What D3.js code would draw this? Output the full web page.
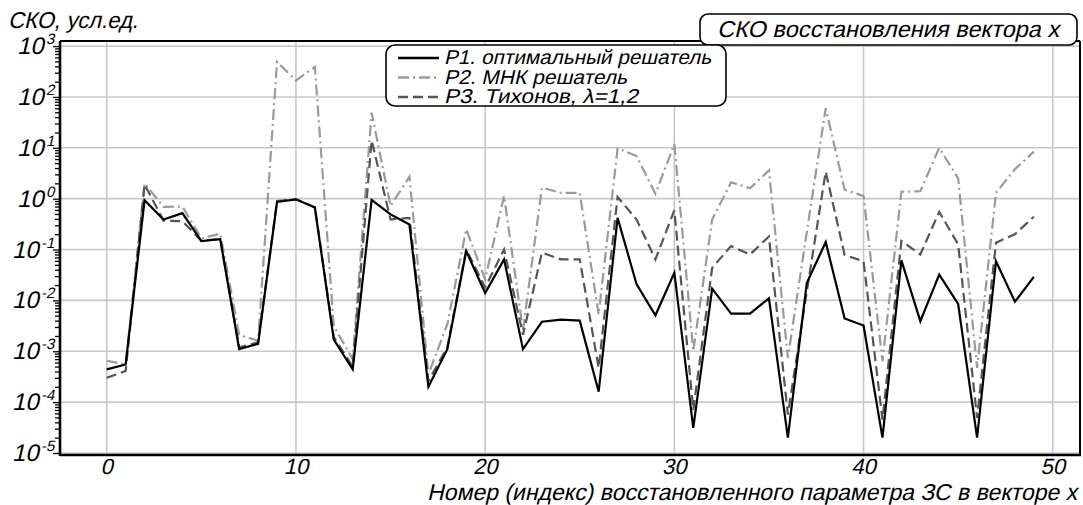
<!DOCTYPE html>
<html>
<head>
<meta charset="utf-8">
<script src="https://cdn.jsdelivr.net/npm/d3@7"></script>
<style>
  body { margin: 0; background: #fff; }
</style>
</head>
<body>
<svg id="chart" width="1083" height="505"></svg>
<script>
// --- data ---
var idx = d3.range(0, 50);
var p1 = [4.4e-4,5.5e-4,0.93,0.39,0.52,0.147,0.16,1.1e-3,1.4e-3,0.86,
          0.97,0.67,1.7e-3,4.4e-4,0.95,0.49,0.31,2.0e-4,1.1e-3,0.093,
          0.014,0.064,1.1e-3,3.8e-3,4.2e-3,4.0e-3,1.6e-4,0.42,0.021,5.1e-3,
          0.035,3.1e-5,0.017,5.5e-3,5.5e-3,0.011,2.0e-5,0.022,0.14,4.4e-3,
          3.2e-3,2.0e-5,0.061,3.9e-3,0.032,8.5e-3,2.0e-5,0.059,9.4e-3,0.029];
var p2 = [6.5e-4,5.5e-4,2.0,0.69,0.70,0.166,0.205,2.1e-3,1.6e-3,490,
          210,390,3.1e-3,7.0e-4,49,0.72,2.7,3.5e-4,3.4e-3,0.25,
          0.026,1.13,2.6e-3,1.65,1.3,1.3,5.3e-3,9.8,6.9,1.25,
          11.8,1.0e-3,0.39,2.1,1.6,3.6,7.4e-4,0.22,60,1.5,
          1.13,6.4e-4,1.37,1.4,10,2.5,4.7e-4,1.3,3.8,8.4];
var p3 = [3.0e-4,4.1e-4,1.9,0.37,0.36,0.15,0.16,1.2e-3,1.5e-3,0.9,
          0.97,0.68,1.9e-3,5.0e-4,14,0.39,0.42,2.6e-4,1.2e-3,0.1,
          0.018,0.1,2.1e-3,0.087,0.064,0.064,4.7e-4,1.08,0.39,0.064,
          0.59,7e-5,0.044,0.117,0.08,0.18,5.7e-5,0.015,3.4,0.078,
          0.059,4.5e-5,0.147,0.08,0.55,0.126,4.9e-5,0.136,0.2,0.44];
var xTicks = [0, 10, 20, 30, 40, 50];
var yExps = [-5, -4, -3, -2, -1, 0, 1, 2, 3];
var legendLabels = ["P1. оптимальный решатель", "P2. МНК решатель", "P3. Тихонов, λ=1,2"];

var FONT = "'Liberation Sans', Arial, sans-serif";

var svg = d3.select("#chart");
var L = 60, R = 1080, T = 41, B = 455;

var x = d3.scaleLinear().domain([-2.47, 51.44]).range([L, R]);
var y = d3.scaleLog().domain([Math.pow(10, -5.04), Math.pow(10, 3.1)]).range([B, T]);

// upright face slanted by a skew so it reads as italic
function slanted(parent, px, py, size) {
  return parent.append("text")
    .attr("transform", "translate(" + px + "," + py + ") skewX(-13)")
    .attr("font-size", size)
    .style("font-family", FONT).style("font-style", "normal")
    .attr("fill", "#000");
}

// grid
svg.append("g").selectAll("line").data(yExps).enter().append("line")
  .attr("x1", L).attr("x2", R)
  .attr("y1", function(e) { return y(Math.pow(10, e)); })
  .attr("y2", function(e) { return y(Math.pow(10, e)); })
  .attr("stroke", "#c8c8c8").attr("stroke-width", 1.6);
svg.append("g").selectAll("line").data(xTicks).enter().append("line")
  .attr("y1", T).attr("y2", B)
  .attr("x1", function(d) { return x(d); }).attr("x2", function(d) { return x(d); })
  .attr("stroke", "#c8c8c8").attr("stroke-width", 1.6);

// minor ticks on the log axis
var minor = [];
yExps.slice(0, -1).forEach(function(e) {
  for (var k = 2; k <= 9; k++) minor.push(k * Math.pow(10, e));
});
var gMinor = svg.append("g").attr("transform", "translate(" + L + ",0)")
  .call(d3.axisLeft(y).tickValues(minor).tickSize(5).tickFormat(""));
var gMajor = svg.append("g").attr("transform", "translate(" + L + ",0)")
  .call(d3.axisLeft(y).tickValues(yExps.map(function(e) { return Math.pow(10, e); })).tickSize(7).tickFormat(""));
[gMinor, gMajor].forEach(function(g) {
  g.select(".domain").remove();
  g.selectAll("line").attr("stroke", "#000").attr("stroke-width", 1.3);
});

// y tick labels 10^n
var gy = svg.append("g");
yExps.forEach(function(e) {
  var t = slanted(gy, 52, y(Math.pow(10, e)) + 8, 24).attr("text-anchor", "end");
  t.append("tspan").text("10");
  t.append("tspan").attr("dy", -10).attr("font-size", 15).text(e < 0 ? "-" + (-e) : "" + e);
});

// x axis labels (positions from the axis scale)
var gx = svg.append("g");
xTicks.forEach(function(d) {
  slanted(gx, x(d), 474, 22).attr("text-anchor", "middle").text(d3.format("d")(d));
});

// series
var line = d3.line().x(function(d) { return x(d[0]); }).y(function(d) { return y(d[1]); });
var series = [
  { vals: p2, color: "#9a9a9a", dash: "11,4,2,4" },
  { vals: p3, color: "#555555", dash: "10,5" },
  { vals: p1, color: "#000000", dash: null }
];
series.forEach(function(s) {
  svg.append("path")
    .datum(idx.map(function(i) { return [i, s.vals[i]]; }))
    .attr("d", line).attr("fill", "none")
    .attr("stroke", s.color).attr("stroke-width", 2.2)
    .attr("stroke-dasharray", s.dash);
});

// frame
svg.append("line").attr("x1", L).attr("x2", R).attr("y1", T).attr("y2", T).attr("stroke", "#000").attr("stroke-width", 2);
svg.append("line").attr("x1", R).attr("x2", R).attr("y1", T).attr("y2", B).attr("stroke", "#000").attr("stroke-width", 2);
svg.append("line").attr("x1", L).attr("x2", L).attr("y1", T).attr("y2", B + 1).attr("stroke", "#000").attr("stroke-width", 2.6);
svg.append("line").attr("x1", L).attr("x2", R + 1).attr("y1", B).attr("y2", B).attr("stroke", "#000").attr("stroke-width", 2.6);

// axis titles
slanted(svg, 8, 28, 23).attr("textLength", 130).attr("lengthAdjust", "spacingAndGlyphs").text("СКО, усл.ед.");
slanted(svg, 1077, 500, 23).attr("text-anchor", "end")
  .attr("textLength", 650).attr("lengthAdjust", "spacingAndGlyphs")
  .text("Номер (индекс) восстановленного параметра ЗС в векторе x");

// title box
svg.append("rect").attr("x", 700).attr("y", 14).attr("width", 377).attr("height", 31).attr("rx", 8)
  .attr("fill", "#fff").attr("stroke", "#000").attr("stroke-width", 1.6);
slanted(svg, 888, 37, 23).attr("text-anchor", "middle")
  .attr("textLength", 342).attr("lengthAdjust", "spacingAndGlyphs")
  .text("СКО восстановления вектора x");

// legend
var lg = svg.append("g");
lg.append("rect").attr("x", 386).attr("y", 45).attr("width", 340).attr("height", 61).attr("rx", 9)
  .attr("fill", "#fff").attr("stroke", "#000").attr("stroke-width", 1.6);
var legendStyles = [series[2], series[0], series[1]];
var legendLen = [267, 183, 194];
legendLabels.forEach(function(lab, i) {
  var yy = 58 + i * 19.5;
  lg.append("line").attr("x1", 398).attr("x2", 439).attr("y1", yy).attr("y2", yy)
    .attr("stroke", legendStyles[i].color).attr("stroke-width", 2.4)
    .attr("stroke-dasharray", legendStyles[i].dash);
  slanted(lg, 444, yy + 6, 20)
    .attr("textLength", legendLen[i]).attr("lengthAdjust", "spacingAndGlyphs").text(lab);
});
</script>
</body>
</html>
